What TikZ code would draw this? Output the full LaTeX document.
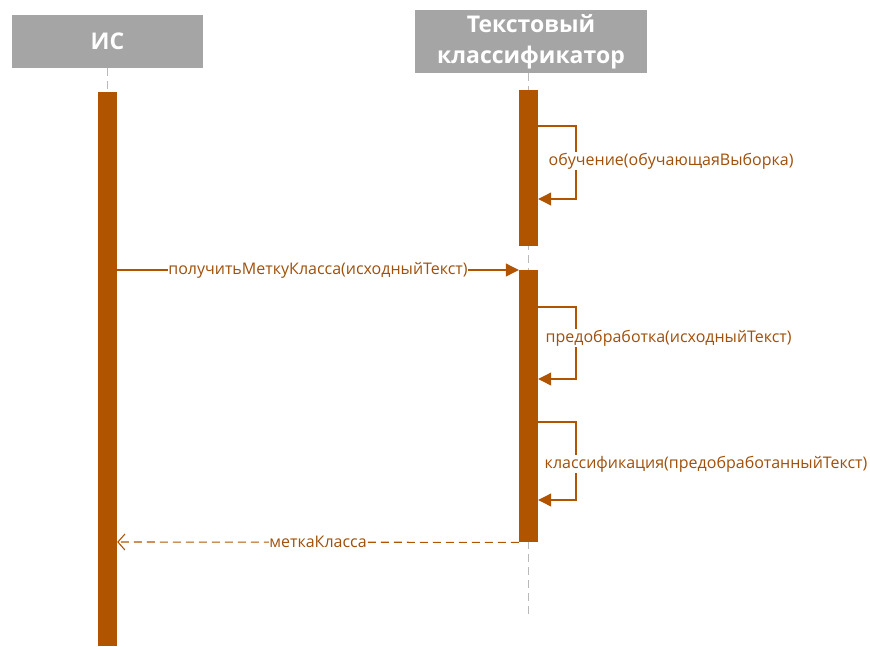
\documentclass[tikz,border=0pt]{standalone}
\usepackage{fontspec}
\setmainfont{Open Sans}
\usetikzlibrary{arrows.meta,calc}
\definecolor{brn}{RGB}{176,84,0}
\definecolor{txt}{RGB}{160,80,10}
\definecolor{hdr}{RGB}{165,165,165}
\begin{document}
\begin{tikzpicture}[x=1pt,y=-1pt,
  head/.style={fill=hdr, text=white, inner sep=0pt, align=center,
    font=\bfseries\fontsize{23}{31}\selectfont},
  bar/.style={fill=brn, minimum width=19pt, inner sep=0pt, draw=none},
  life/.style={draw=gray!55, line width=1pt, dash pattern=on 8pt off 5pt},
  msg/.style={draw=brn, line width=1.1pt, -{Triangle[length=13pt,width=13pt]}},
  ret/.style={draw=brn, line width=1.1pt, dash pattern=on 8pt off 5pt,
    -{Straight Barb[length=7pt,width=16pt,line width=1.1pt]}},
  lbl/.style={fill=white, text=txt, inner sep=0.5pt, font=\fontsize{16}{19}\selectfont}]
\useasboundingbox (0,0) rectangle (870,646);
% headers
\node[head, minimum width=191pt, minimum height=53pt] (h1) at (107.5,41.5) {ИС};
\node[head, minimum width=232pt, minimum height=63pt] (h2) at (531,41.5) {Текстовый\\классификатор};
% lifelines
\coordinate (e2) at (528.5,617);
\draw[life] (h1.south -| 107.5,0) -- (107.5,92);
\draw[life] (h2.south -| 528.5,0) -- (e2);
% activation bars
\node[bar, minimum height=554pt, anchor=north] (a1) at (107.5,92) {};
\node[bar, minimum height=156pt, anchor=north] (b1) at (528.5,90) {};
\node[bar, minimum height=272pt, anchor=north] (b2) at (528.5,270) {};
% self message 1
\coordinate (s1a) at (b1.east |- 0,126);
\coordinate (s1b) at (b1.east |- 0,199);
\draw[msg] (s1a) -- (576,126) -- (576,199) -- (s1b);
\node[lbl, anchor=west] (l1) at (548,161) {обучение(обучающаяВыборка)};
% call
\coordinate (m1a) at (a1.east |- 0,270);
\coordinate (m1b) at (b2.west |- 0,270);
\draw[msg] (m1a) -- (m1b) node[lbl, pos=0.5] (l2) {получитьМеткуКласса(исходныйТекст)};
% self message 2
\coordinate (s2a) at (b2.east |- 0,307);
\coordinate (s2b) at (b2.east |- 0,379);
\draw[msg] (s2a) -- (576,307) -- (576,379) -- (s2b);
\node[lbl, anchor=west] (l3) at (545,338) {предобработка(исходныйТекст)};
% self message 3
\coordinate (s3a) at (b2.east |- 0,422);
\coordinate (s3b) at (b2.east |- 0,500);
\draw[msg] (s3a) -- (576,422) -- (576,500) -- (s3b);
\node[lbl, anchor=west] (l4) at (544,464) {классификация(предобработанныйТекст)};
% return
\coordinate (r1a) at (b2.south west);
\coordinate (r1b) at (a1.east |- 0,542);
\draw[ret] (r1a) -- (r1b) node[lbl, pos=0.5] (l5) {меткаКласса};
\end{tikzpicture}
\end{document}
